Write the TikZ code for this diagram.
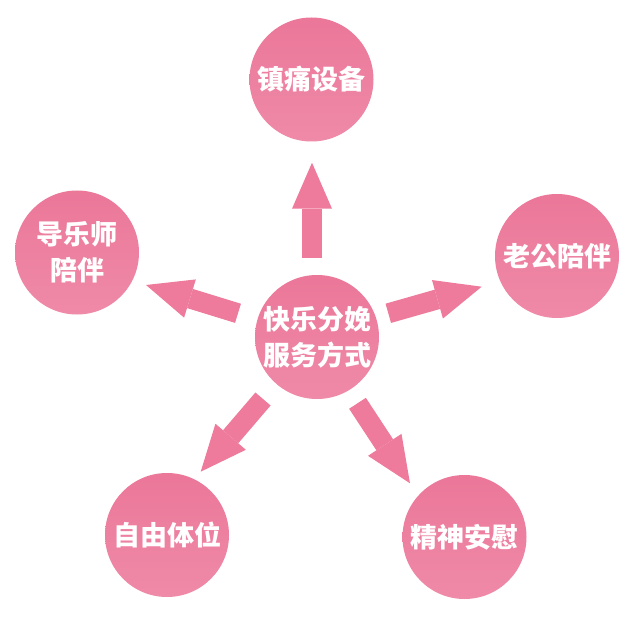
\documentclass[tikz,border=0pt]{standalone}
\usepackage{fontspec}
\newfontfamily\cjk{Noto Sans CJK SC}
\usetikzlibrary{arrows.meta}
\definecolor{pinktop}{HTML}{EB7799}
\definecolor{pinkbot}{HTML}{EF8AA8}
\definecolor{arrowpink}{HTML}{EE7A9C}
\begin{document}
\begin{tikzpicture}[x=1pt,y=-1pt,
  bubble/.style={circle,minimum size=124pt,inner sep=0pt,top color=pinktop,bottom color=pinkbot,
    text=white,align=center,font=\cjk\bfseries\fontsize{27}{36}\selectfont},
  bigarrow/.style={draw=arrowpink,line width=20pt,
    -{Triangle[length=46pt,width=40pt,line width=0pt,fill=arrowpink]}}]
\useasboundingbox (0,0) rectangle (640,631);
\fill[white] (0,0) rectangle (640,631);
% nodes
\node[bubble] (c)  at (317,337)   {快乐分娩\\服务方式};
\node[bubble] (t)  at (311.5,79.5) {镇痛设备};
\node[bubble] (l)  at (77,252.5)  {导乐师\\陪伴};
\node[bubble] (r)  at (557,256)   {老公陪伴};
\node[bubble] (bl) at (167,535)   {自由体位};
\node[bubble] (br) at (464.5,537) {精神安慰};
% arrow end points
\coordinate (ts) at (312,258);   \coordinate (te) at (312,162.7);
\coordinate (ls) at (238,313.3); \coordinate (le) at (146,285);
\coordinate (rs) at (388.3,313.3); \coordinate (re) at (481.7,286.7);
\coordinate (bls) at (263,399);  \coordinate (ble) at (200.7,471.7);
\coordinate (brs) at (357.5,403.3); \coordinate (bre) at (410,483.3);
% arrows
\draw[bigarrow] (ts) -- (te);
\draw[bigarrow] (ls) -- (le);
\draw[bigarrow] (rs) -- (re);
\draw[bigarrow] (bls) -- (ble);
\draw[bigarrow] (brs) -- (bre);
\end{tikzpicture}
\end{document}
